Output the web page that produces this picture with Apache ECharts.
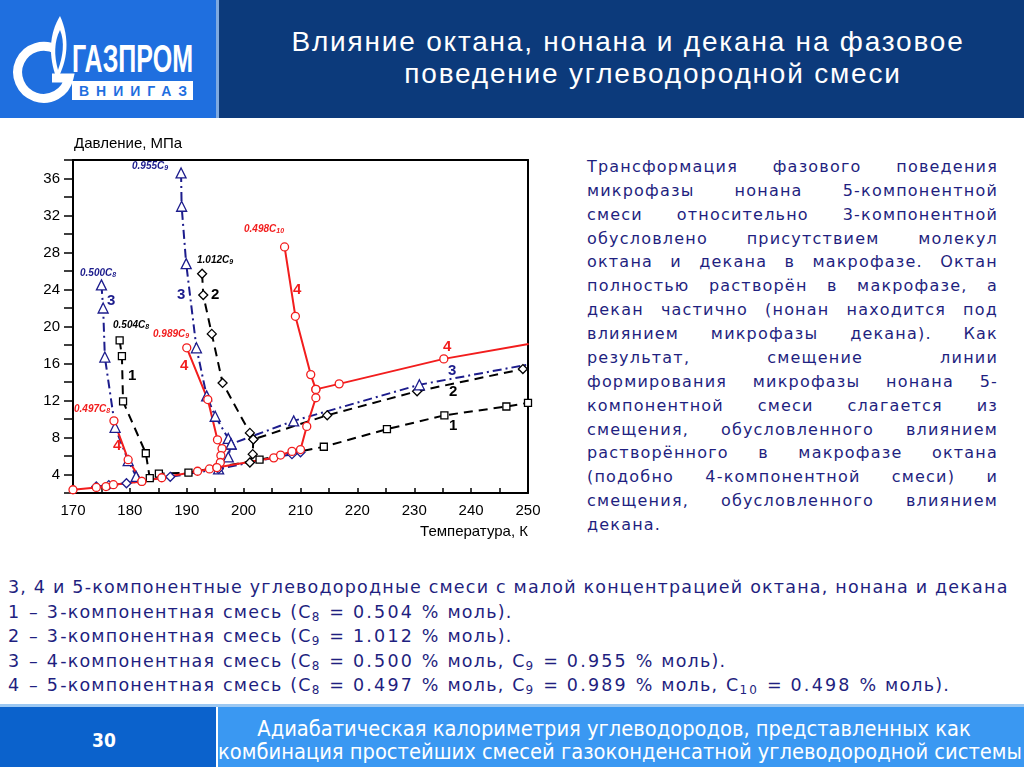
<!DOCTYPE html>
<html><head><meta charset="utf-8">
<script src="https://cdn.jsdelivr.net/npm/echarts/dist/echarts.min.js"></script>
<style>
html,body{margin:0;padding:0;background:#fff;}
body{width:1024px;height:767px;position:relative;overflow:hidden;}
.abs{position:absolute;}
#chart{position:absolute;left:0;top:0;width:1024px;height:767px;z-index:5;}
.title{position:absolute;color:#fff;font-family:"Liberation Sans",Arial,sans-serif;font-size:28px;letter-spacing:1.8px;white-space:nowrap;transform:translateX(-50%);line-height:32px;}
.pl{position:absolute;left:587px;width:411px;font-family:"DejaVu Sans",Verdana,sans-serif;font-size:16px;letter-spacing:1.2px;color:#1f1f80;text-align:justify;text-align-last:justify;white-space:nowrap;line-height:20px;}
.pl.last{text-align-last:left;}
#bottom{position:absolute;left:8px;top:575px;font-family:"DejaVu Sans",Verdana,sans-serif;font-size:17.5px;letter-spacing:1.2px;color:#1f1f80;line-height:24.5px;white-space:nowrap;}
#bottom sub{font-size:12px;vertical-align:-3px;line-height:0;letter-spacing:0;}
#bottom .n{letter-spacing:2.2px;}
#bottom .w{word-spacing:1px;}
.foot{position:absolute;color:#fff;font-family:"DejaVu Sans Condensed","DejaVu Sans",sans-serif;font-stretch:condensed;font-size:21.7px;white-space:nowrap;transform:translateX(-50%);line-height:24px;}
</style></head>
<body>
<svg class="abs" style="left:0;top:0" width="216" height="118">
  <rect x="0" y="0" width="216" height="118" fill="#1f6fdf"/>
  <path d="M 57 50 A 26 26 0 1 0 69 78 L 52 78" stroke="#fff" stroke-width="9" fill="none"/>
  <path d="M60 16 C 49 34 48 56 57 80 C 68 60 70 38 60 16 Z" fill="#fff"/>
  <path d="M60 30 C 54 42 54 56 58 70 C 63 56 65 42 60 30 Z" fill="#1f6fdf"/>
  <text x="72" y="72" font-family="Liberation Sans,Arial" font-weight="bold" font-size="38" fill="#fff" textLength="121" lengthAdjust="spacingAndGlyphs">ГАЗПРОМ</text>
  <rect x="72" y="81" width="121" height="19" fill="#fff"/>
  <text x="79" y="96" font-family="Liberation Sans,Arial" font-weight="bold" font-size="14" fill="#1f6fdf" textLength="108" lengthAdjust="spacing">ВНИИГАЗ</text>
</svg>
<div class="abs" style="left:216px;top:0;width:3px;height:118px;background:#7ea9e0"></div>
<div class="abs" style="left:219px;top:0;width:805px;height:118px;background:#0c3a7b"></div>
<div class="title" style="left:628px;top:26px">Влияние октана, нонана и декана на фазовое</div>
<div class="title" style="left:653px;top:58px">поведение углеводородной смеси</div>

<div id="para"></div>

<div id="bottom">
<div>3, 4 и 5-компонентные углеводородные смеси с малой концентрацией октана, нонана и декана</div>
<div>1 – 3-компонентная смесь (C<sub>8</sub> = 0.504 % моль).</div>
<div>2 – 3-компонентная смесь (C<sub>9</sub> = 1.012 % моль).</div>
<div>3 – 4-компонентная смесь (C<sub>8</sub> = 0.500 % моль, C<sub>9</sub> = 0.955 % моль).</div>
<div>4 – 5-компонентная смесь (C<sub>8</sub> = 0.497 % моль, C<sub>9</sub> = 0.989 % моль, C<sub>10</sub> = 0.498 % моль).</div>
</div>

<div class="abs" style="left:0;top:704px;width:1024px;height:3px;background:#9cc8f2"></div>
<div class="abs" style="left:0;top:707px;width:216px;height:60px;background:#0b62cc"></div>
<div class="abs" style="left:218px;top:707px;width:806px;height:60px;background:#3a98f2"></div>
<div class="abs" style="left:92px;top:729px;color:#fff;font-family:'DejaVu Sans Condensed','DejaVu Sans',sans-serif;font-stretch:condensed;font-size:19px;font-weight:bold;">30</div>
<div class="foot" style="left:614px;top:717px">Адиабатическая калориметрия углеводородов, представленных как</div>
<div class="foot" style="left:620px;top:740px">комбинация простейших смесей газоконденсатной углеводородной системы</div>

<div id="chart"></div>
<script>
// widen digit runs in the lower legend text (lines 2-5)
document.querySelectorAll('#bottom > div').forEach((d,i)=>{
  if(i>0){ d.innerHTML = d.innerHTML.replace(/(\d[\d.]*)(?![^<]*>)/g,'<span class="n">$1</span>'); d.className='w'; }
});

// ---- paragraph lines ----
const paraLines = [
 "Трансформация фазового поведения",
 "микрофазы нонана 5-компонентной",
 "смеси относительно 3-компонентной",
 "обусловлено присутствием молекул",
 "октана и декана в макрофазе. Октан",
 "полностью растворён в макрофазе, а",
 "декан частично (нонан находится под",
 "влиянием микрофазы декана). Как",
 "результат, смещение линии",
 "формирования микрофазы нонана 5-",
 "компонентной смеси слагается из",
 "смещения, обусловленного влиянием",
 "растворённого в макрофазе октана",
 "(подобно 4-компонентной смеси) и",
 "смещения, обусловленного влиянием",
 "декана."
];
const para = document.getElementById('para');
paraLines.forEach((t,i)=>{
  const d=document.createElement('div');
  d.className='pl'+(i===paraLines.length-1?' last':'');
  d.style.top=(157+i*23.87)+'px';
  d.textContent=t;
  para.appendChild(d);
});

// ---- chart data: [temperature K, pressure MPa] ----
const s1Mix = [[178.2,18.5],[178.6,16.8],[178.8,11.9],[182.8,6.3],[183.5,3.6],[185.1,4.1],[190.3,4.2],[202.8,5.6],[214.1,7.0],[225.2,8.9],[235.3,10.4],[246.2,11.35],[250,11.75]];
const s2Dew = [[192.7,25.7],[192.9,23.4],[194.4,19.2],[196.3,13.9],[201.1,8.5],[201.7,7.8],[214.7,10.4],[230.5,13.0],[249.1,15.4]];
const s2Low = [[201.7,7.8],[201.6,6.2],[201.1,5.3]];
const s3C8 = [[175.0,24.5],[175.3,22.0],[175.6,16.7],[177.4,9.1],[179.7,5.5],[181.1,3.8]];
const s3C9 = [[189.0,36.6],[189.1,33.0],[189.9,26.8],[191.7,17.7],[193.5,12.5],[195.0,10.3],[197.3,7.9],[197.8,7.3],[208.8,9.8],[230.9,13.7],[250.1,15.9]];
const s3Low = [[197.8,7.3],[197.3,5.9],[195.6,4.6]];
const s3Bot = [[174.1,2.7],[176.3,2.85],[179.4,3.05],[187.1,3.75],[195.6,4.6],[208.5,6.2],[210.0,6.4]];
const s4Bot = [[170,2.35],[174.1,2.6],[175.8,2.7],[177.1,2.9],[182.1,3.25],[185.6,3.65],[191.9,4.35],[194.0,4.6],[195.3,4.75],[205.3,5.8],[206.5,6.1],[208.5,6.5],[210.0,6.7],[211.1,9.2],[212.7,12.3],[212.7,13.2],[216.8,13.8],[235.2,16.5],[250.1,18.1]];
const s4C8 = [[177.2,9.8],[179.7,5.6],[182.1,3.25]];
const s4C9 = [[190.0,17.7],[193.7,12.1],[195.4,7.75],[196.2,6.8],[196.0,6.05],[195.9,5.3],[195.3,4.75]];
const s4C10 = [[207.2,28.6],[209.1,21.1],[211.8,14.8],[212.7,13.2]];

const xTicks = [170,180,190,200,210,220,230,240,250];
const yTicks = [4,8,12,16,20,24,28,32,36];

const BLACK='#000', NAVY='#1c1c8c', RED='#f21d1d';
function mk(data, color, type, symbol, size){
  return {type:'line', data, symbol, symbolSize:size, showSymbol:true, animation:false,
    lineStyle:{color, width:2, type},
    itemStyle:{color:'#fff', borderColor:color, borderWidth:1.3}};
}
const DASH=[9,6], DASHDOT=[9,4,2,4];
const series=[
  mk(s1Mix,BLACK,DASH,'rect',7),
  mk(s2Dew,BLACK,DASH,'diamond',9),
  mk(s2Low,BLACK,DASH,'diamond',9),
  mk(s3C8,NAVY,DASHDOT,'triangle',10),
  mk(s3C9,NAVY,DASHDOT,'triangle',10),
  mk(s3Low,NAVY,DASHDOT,'triangle',10),
  mk(s3Bot,NAVY,DASHDOT,'diamond',9),
  mk(s4Bot,RED,'solid','circle',8),
  mk(s4C8,RED,'solid','circle',8),
  mk(s4C9,RED,'solid','circle',8),
  mk(s4C10,RED,'solid','circle',8)
];

function ann(x,y,main,sub,color){
  return {type:'text', left:x, top:y-7, z:20, style:{
    text:'{m|'+main+'}{s|'+sub+'}',
    rich:{m:{fontSize:10,fontWeight:'bold',fontStyle:'italic',fill:color,fontFamily:'Liberation Sans, Arial'},
          s:{fontSize:7,fontWeight:'bold',fontStyle:'italic',fill:color,fontFamily:'Liberation Sans, Arial',padding:[5,0,0,0]}}}};
}
function num(x,y,t,color){
  return {type:'text', left:x, top:y-9, z:20, style:{text:t,fontSize:15,fontWeight:'bold',fill:color,fontFamily:'Liberation Sans, Arial'}};
}
const graphics=[
  ann(132,168,'0.955C','9',NAVY), ann(80,275,'0.500C','8',NAVY),
  ann(113,327,'0.504C','8',BLACK), ann(197,262,'1.012C','9',BLACK),
  ann(153,336,'0.989C','9',RED), ann(74,411,'0.497C','8',RED),
  ann(244,231,'0.498C','10',RED),
  num(107,302,'3',NAVY), num(177,296,'3',NAVY), num(448,372,'3',NAVY),
  num(128,377,'1',BLACK), num(449,427,'1',BLACK),
  num(211,296,'2',BLACK), num(449,393,'2',BLACK),
  num(113,447,'4',RED), num(180,367,'4',RED), num(293,291,'4',RED), num(443,348,'4',RED),
  {type:'text', left:74, top:136, style:{text:'Давление, МПа',fontSize:15,fill:'#000',fontFamily:'Liberation Sans, Arial'}},
  {type:'text', right:1024-528, top:524, style:{text:'Температура, К',fontSize:15,fill:'#000',fontFamily:'Liberation Sans, Arial'}}
];

const chart=echarts.init(document.getElementById('chart'),null,{renderer:'canvas'});
chart.setOption({
  animation:false,
  grid:{left:73,top:160,width:455,height:333,containLabel:false},
  xAxis:[{type:'value',min:170,max:250,interval:5,
    axisLine:{lineStyle:{color:'#000',width:2}},
    axisTick:{inside:true,length:5,lineStyle:{color:'#000',width:1.5}},
    axisLabel:{margin:10,fontSize:15,color:'#000',fontFamily:'Liberation Sans, Arial',
      formatter:v=>xTicks.includes(v)?String(v):''},
    splitLine:{show:false}},
    {type:'value',position:'top',min:170,max:250,axisLine:{show:true,lineStyle:{color:'#000',width:2}},axisTick:{show:false},axisLabel:{show:false},splitLine:{show:false}}],
  yAxis:[{type:'value',min:2,max:38,interval:2,
    axisLine:{show:true,lineStyle:{color:'#000',width:2}},
    axisTick:{inside:false,length:9,lineStyle:{color:'#000',width:1.5}},
    axisLabel:{margin:13,fontSize:15,color:'#000',fontFamily:'Liberation Sans, Arial',
      formatter:v=>yTicks.includes(v)?String(v):''},
    splitLine:{show:false}},
    {type:'value',position:'right',min:2,max:38,axisLine:{show:true,lineStyle:{color:'#000',width:2}},axisTick:{show:false},axisLabel:{show:false},splitLine:{show:false}}],
  series,
  graphic:graphics
});
</script>
</body></html>
